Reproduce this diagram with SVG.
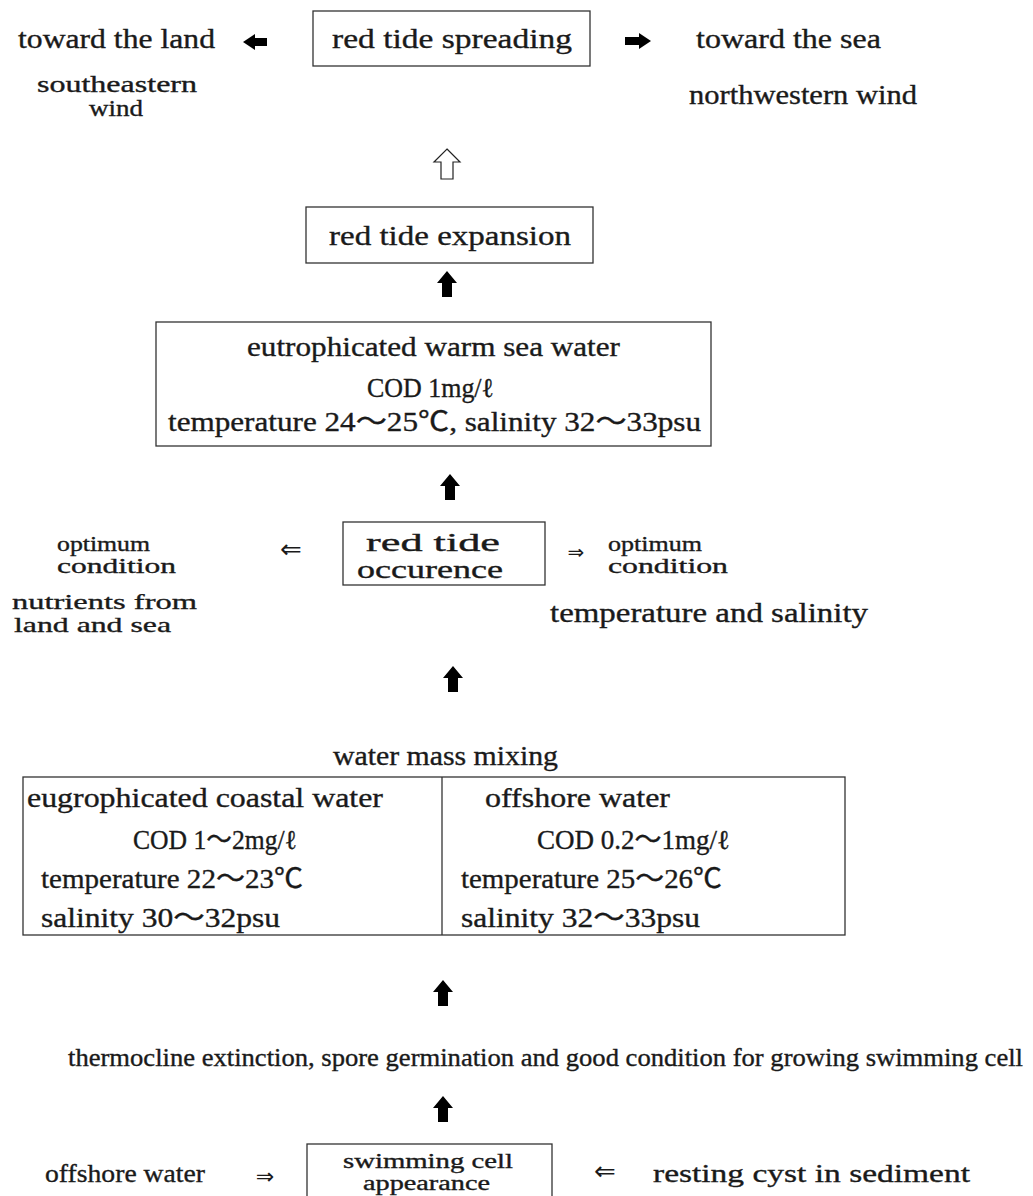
<svg xmlns="http://www.w3.org/2000/svg" width="1033" height="1196" viewBox="0 0 1033 1196">
<style>
text{font-family:"Liberation Serif","Noto Sans CJK KR",serif;fill:#1a1a1a;stroke:#1a1a1a;stroke-width:0.35}
.t{font-size:28px}
.m{font-size:27px}
.a{font-family:"DejaVu Sans",sans-serif;stroke:none}
.box{fill:#fff;stroke:#333;stroke-width:1.3}
.blk{fill:#000}
.hol{fill:#fff;stroke:#222;stroke-width:1.2}
</style>
<defs>
<path id="up" d="M0,0 L10,12 L5,12 L5,26 L-5,26 L-5,12 L-10,12 Z"/>
</defs>
<rect width="1033" height="1196" fill="#fff"/>

<g id="connectors">
<path class="hol" d="M447,149 L460,162 L453,162 L453,179 L441,179 L441,162 L434,162 Z"/>
<path class="blk" d="M243,42 L255,34 L255,38 L267,38 L267,46 L255,46 L255,50 Z"/>
<path class="blk" d="M651,41 L639,33 L639,37 L625,37 L625,45 L639,45 L639,49 Z"/>
<use href="#up" class="blk" transform="translate(447,271)"/>
<use href="#up" class="blk" transform="translate(450,474)"/>
<use href="#up" class="blk" transform="translate(453,666)"/>
<use href="#up" class="blk" transform="translate(443,980)"/>
<use href="#up" class="blk" transform="translate(443,1096)"/>
<text class="a" x="291" y="558" font-size="26" text-anchor="middle">⇐</text>
<text class="a" x="576" y="559" font-size="20" text-anchor="middle">⇒</text>
<text class="a" x="265" y="1184" font-size="22" text-anchor="middle">⇒</text>
<text class="a" x="605" y="1180" font-size="26" text-anchor="middle">⇐</text>
</g>

<g id="spreading">
<rect class="box" x="313" y="11" width="277" height="55"/>
<text class="t" x="332" y="48" textLength="240" lengthAdjust="spacingAndGlyphs">red tide spreading</text>
</g>
<g id="land">
<text class="t" x="18" y="48" textLength="197" lengthAdjust="spacingAndGlyphs">toward the land</text>
<text x="37" y="92" font-size="23" textLength="160" lengthAdjust="spacingAndGlyphs">southeastern</text>
<text x="89" y="116" font-size="23" textLength="54" lengthAdjust="spacingAndGlyphs">wind</text>
</g>
<g id="sea">
<text class="t" x="696" y="48" textLength="185" lengthAdjust="spacingAndGlyphs">toward the sea</text>
<text class="m" x="689" y="104" textLength="228" lengthAdjust="spacingAndGlyphs">northwestern wind</text>
</g>

<g id="expansion">
<rect class="box" x="306" y="207" width="287" height="56"/>
<text class="m" x="329" y="245" textLength="242" lengthAdjust="spacingAndGlyphs">red tide expansion</text>
</g>

<g id="warm-water">
<rect class="box" x="156" y="322" width="555" height="124"/>
<text class="m" x="247" y="356" textLength="373" lengthAdjust="spacingAndGlyphs">eutrophicated warm sea water</text>
<text class="m" x="367" y="397" textLength="127" lengthAdjust="spacingAndGlyphs">COD 1mg/ℓ</text>
<text class="m" x="168" y="431" textLength="533" lengthAdjust="spacingAndGlyphs">temperature 24～25℃, salinity 32～33psu</text>
</g>

<g id="occurence">
<rect class="box" x="343" y="522" width="202" height="63"/>
<text x="366" y="551" font-size="25" textLength="134" lengthAdjust="spacingAndGlyphs">red tide</text>
<text x="357" y="578" font-size="25" textLength="146" lengthAdjust="spacingAndGlyphs">occurence</text>
</g>
<g id="nutrients">
<text x="57" y="551" font-size="21" textLength="93" lengthAdjust="spacingAndGlyphs">optimum</text>
<text x="57" y="573" font-size="21" textLength="119" lengthAdjust="spacingAndGlyphs">condition</text>
<text x="12" y="609" font-size="22" textLength="185" lengthAdjust="spacingAndGlyphs">nutrients from</text>
<text x="14" y="632" font-size="22" textLength="157" lengthAdjust="spacingAndGlyphs">land and sea</text>
</g>
<g id="temp-salinity">
<text x="608" y="551" font-size="21" textLength="94" lengthAdjust="spacingAndGlyphs">optimum</text>
<text x="608" y="573" font-size="21" textLength="120" lengthAdjust="spacingAndGlyphs">condition</text>
<text class="m" x="550" y="622" textLength="318" lengthAdjust="spacingAndGlyphs">temperature and salinity</text>
</g>

<g id="mixing">
<text class="m" x="333" y="765" textLength="225" lengthAdjust="spacingAndGlyphs">water mass mixing</text>
<rect class="box" x="23" y="777" width="822" height="158"/>
<line x1="442" y1="777" x2="442" y2="935" stroke="#333" stroke-width="1.3"/>
<text class="m" x="27" y="807" textLength="356" lengthAdjust="spacingAndGlyphs">eugrophicated coastal water</text>
<text class="m" x="133" y="849" textLength="164" lengthAdjust="spacingAndGlyphs">COD 1～2mg/ℓ</text>
<text class="m" x="41" y="888" textLength="262" lengthAdjust="spacingAndGlyphs">temperature 22～23℃</text>
<text class="m" x="41" y="927" textLength="239" lengthAdjust="spacingAndGlyphs">salinity 30～32psu</text>
<text class="m" x="485" y="807" textLength="185" lengthAdjust="spacingAndGlyphs">offshore water</text>
<text class="m" x="537" y="849" textLength="193" lengthAdjust="spacingAndGlyphs">COD 0.2～1mg/ℓ</text>
<text class="m" x="461" y="888" textLength="261" lengthAdjust="spacingAndGlyphs">temperature 25～26℃</text>
<text class="m" x="461" y="927" textLength="239" lengthAdjust="spacingAndGlyphs">salinity 32～33psu</text>
</g>

<g id="thermocline">
<text x="68" y="1066" font-size="25" textLength="955" lengthAdjust="spacingAndGlyphs">thermocline extinction, spore germination and good condition for growing swimming cell</text>
</g>

<g id="swimming">
<rect class="box" x="307" y="1144" width="245" height="60"/>
<text x="343" y="1168" font-size="20" textLength="170" lengthAdjust="spacingAndGlyphs">swimming cell</text>
<text x="363" y="1190" font-size="20" textLength="127" lengthAdjust="spacingAndGlyphs">appearance</text>
</g>
<g id="offshore">
<text x="45" y="1182" font-size="26" textLength="160" lengthAdjust="spacingAndGlyphs">offshore water</text>
</g>
<g id="cyst">
<text x="653" y="1182" font-size="26" textLength="317" lengthAdjust="spacingAndGlyphs">resting cyst in sediment</text>
</g>
</svg>
